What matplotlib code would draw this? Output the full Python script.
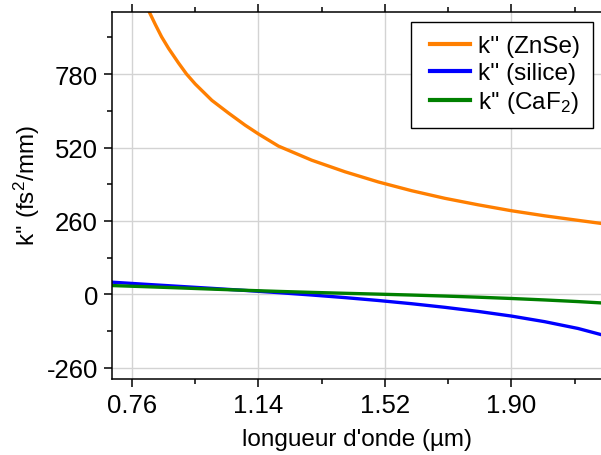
import matplotlib
matplotlib.use("Agg")
import matplotlib.pyplot as plt
from matplotlib.ticker import FixedLocator
from matplotlib.legend_handler import HandlerLine2D

plt.rcParams['font.family'] = ['Liberation Sans', 'DejaVu Sans']
plt.rcParams['mathtext.fontset'] = 'custom'
plt.rcParams['mathtext.rm'] = 'Liberation Sans'
plt.rcParams['mathtext.it'] = 'Liberation Sans:italic'

# wavelength (µm) and GVD (fs²/mm)
wl_znse = [0.80, 0.812, 0.83, 0.849, 0.87, 0.90, 0.924, 0.95, 1.00, 1.05,
           1.10, 1.14, 1.20, 1.30, 1.40, 1.50, 1.60, 1.70, 1.80, 1.90,
           2.00, 2.10, 2.17]
gvd_znse = [1033, 1000, 956, 912, 871, 819, 780, 745, 687, 642,
            599, 568, 525, 475, 434, 398, 367, 340, 317, 296,
            278, 262, 251]

wl = [0.70, 0.80, 0.90, 1.00, 1.10, 1.20, 1.30, 1.40, 1.50,
      1.60, 1.70, 1.80, 1.90, 2.00, 2.10, 2.17]
gvd_silice = [43, 35.5, 28.3, 21.1, 13.7, 5.9, -2.5, -11.7, -21.9,
              -33.3, -46.1, -60.6, -77.1, -97, -121, -143]
gvd_caf2 = [31, 27, 22.8, 18.4, 14.2, 10.3, 6.8, 3.6, 0.6,
            -2.6, -6.2, -10.2, -14.8, -20, -25.8, -30.5]

x_ticks = [0.76, 1.14, 1.52, 1.90]
x_minor = [0.95, 1.33, 1.71, 2.09]
y_ticks = [-260, 0, 260, 520, 780]
y_minor = [-130, 130, 390, 650, 910]

fig = plt.figure(figsize=(6.01, 4.56), dpi=100)
ax = fig.add_axes([112/601, 1-380/456, 1-112/601, (380-13)/456])

ax.plot(wl_znse, gvd_znse, color='#FF7F00', lw=2.4, label="k'' (ZnSe)")
ax.plot(wl, gvd_silice, color='#0000FF', lw=2.4, label="k'' (silice)")
ax.plot(wl, gvd_caf2, color='#008000', lw=2.4, label="k'' (CaF$_2$)")

ax.set_xlim(0.70, 2.169)
ax.set_ylim(-300, 1000)
ax.xaxis.set_major_locator(FixedLocator(x_ticks))
ax.xaxis.set_minor_locator(FixedLocator(x_minor))
ax.yaxis.set_major_locator(FixedLocator(y_ticks))
ax.yaxis.set_minor_locator(FixedLocator(y_minor))
ax.set_xticklabels([f"{v:.2f}" for v in x_ticks])
ax.set_yticklabels([str(v) for v in y_ticks])

ax.grid(True, which='major', color='#d3d3d3', lw=1.0)
ax.set_axisbelow(True)

ax.spines['right'].set_visible(False)
for s in ['left', 'bottom', 'top']:
    ax.spines[s].set_linewidth(1.1)

ax.tick_params(which='major', direction='out', length=6, width=1.1,
               labelsize=18.5, top=True, bottom=True, left=True, right=False, pad=4)
ax.tick_params(which='minor', direction='out', length=3.5, width=1.1,
               top=True, bottom=True, left=True, right=False)

ax.set_xlabel("longueur d'onde (µm)", fontsize=17.5, labelpad=8)
ax.set_ylabel("k'' (fs$^2$/mm)", fontsize=17.5)
ax.yaxis.set_label_coords(-0.143, 0.53)

hmap = {ln: HandlerLine2D(numpoints=2, marker_pad=0.22) for ln in ax.get_lines()}
leg = ax.legend(loc='upper right', fontsize=17.5, frameon=True,
                fancybox=False, edgecolor='black', handlelength=2.1,
                borderpad=0.55, labelspacing=0.2, handletextpad=0.1,
                borderaxespad=0, handler_map=hmap)
leg.set_bbox_to_anchor((1 - 8/489, 1 - 10/367), transform=ax.transAxes)
leg.get_frame().set_linewidth(1.0)
leg.get_frame().set_alpha(1)
for h in leg.get_lines():
    h.set_linewidth(3.0)

fig.savefig("out.png", dpi=100)
